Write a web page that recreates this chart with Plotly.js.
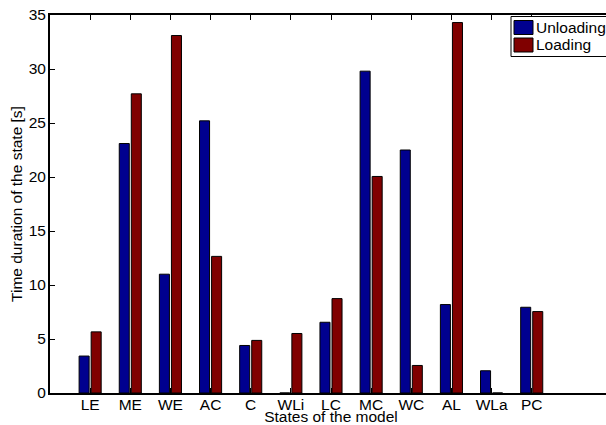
<!DOCTYPE html>
<html>
<head>
<meta charset="utf-8">
<script src="https://cdn.plot.ly/plotly-3.0.1.min.js"></script>
<style>
html,body{margin:0;padding:0;overflow:hidden;background:#fff;}
#chart{width:620px;height:425px;}
</style>
</head>
<body>
<div id="chart"></div>
<script>
const states = ["LE","ME","WE","AC","C","WLi","LC","MC","WC","AL","WLa","PC"];
const unloading = [3.42, 23.1, 11.0, 25.2, 4.4, 0.0, 6.55, 29.8, 22.5, 8.19, 2.06, 7.94];
const loading   = [5.66, 27.7, 33.1, 12.65, 4.87, 5.51, 8.74, 20.05, 2.55, 34.3, 0.0, 7.54];
const yTicks = [0,5,10,15,20,25,30,35];
const seriesNames = ["Unloading", "Loading"];
const seriesColors = ["#00008F", "#800000"];

const FAM = "Liberation Sans, Arial, Helvetica, sans-serif";
const tickFont = {family: FAM, size: 15.5, color: "#000"};
const titleFont = {family: FAM, size: 15.5, color: "#000"};
const legendFont = {family: FAM, size: 15.5, color: "#000"};

const W = 620, H = 425;
const M = {l: 50, r: 8, t: 15, b: 32};
const pw = W - M.l - M.r, ph = H - M.t - M.b;
const px = v => (v - M.l) / pw;
const py = v => 1 - (v - M.t) / ph;

const traces = [unloading, loading].map((vals, i) => ({
  type: "bar", name: seriesNames[i], x: states, y: vals, showlegend: false,
  marker: {color: seriesColors[i], line: {color: "#000", width: 1}}
}));

// MATLAB-style legend box
const shapes = [
  {type: "rect", xref: "paper", yref: "paper", x0: px(511), x1: px(700), y0: py(16.5), y1: py(56.5),
   line: {color: "#000", width: 1}, fillcolor: "#fff", layer: "above"}
];
const annotations = [];
const rowTop = [20.5, 38];
seriesNames.forEach((n, i) => {
  shapes.push({type: "rect", xref: "paper", yref: "paper",
    x0: px(514), x1: px(533), y0: py(rowTop[i]), y1: py(rowTop[i] + 14),
    line: {color: "#000", width: 1}, fillcolor: seriesColors[i], layer: "above"});
  annotations.push({xref: "paper", yref: "paper", x: px(534), y: py(rowTop[i] + 7),
    xanchor: "left", yanchor: "middle", text: n, showarrow: false, font: legendFont});
});

const layout = {
  width: W, height: H,
  margin: {l: M.l, r: M.r, t: M.t, b: M.b, pad: 0},
  paper_bgcolor: "#fff", plot_bgcolor: "#fff",
  font: tickFont,
  barmode: "group", bargap: 0.4, bargroupgap: 0.1667,
  showlegend: false,
  shapes: shapes,
  annotations: annotations,
  xaxis: {type: "category", range: [-1, 13], showgrid: false, zeroline: false,
          showline: true, linecolor: "#000", linewidth: 2, mirror: "ticks",
          ticks: "inside", ticklen: 5, tickcolor: "#000", tickwidth: 1,
          tickfont: tickFont, ticklabelstandoff: -4,
          title: {text: "States of the model", font: titleFont, standoff: 0}},
  yaxis: {range: [0, 35], tickvals: yTicks, ticktext: yTicks.map(String),
          showgrid: false, zeroline: false,
          showline: true, linecolor: "#000", linewidth: 2, mirror: "ticks",
          ticks: "inside", ticklen: 5, tickcolor: "#000", tickwidth: 1,
          tickfont: tickFont, ticklabelstandoff: -1,
          title: {text: "Time duration of the state [s]", font: titleFont, standoff: 2}}
};

Plotly.newPlot("chart", traces, layout, {displayModeBar: false, staticPlot: true});
</script>
</body>
</html>
